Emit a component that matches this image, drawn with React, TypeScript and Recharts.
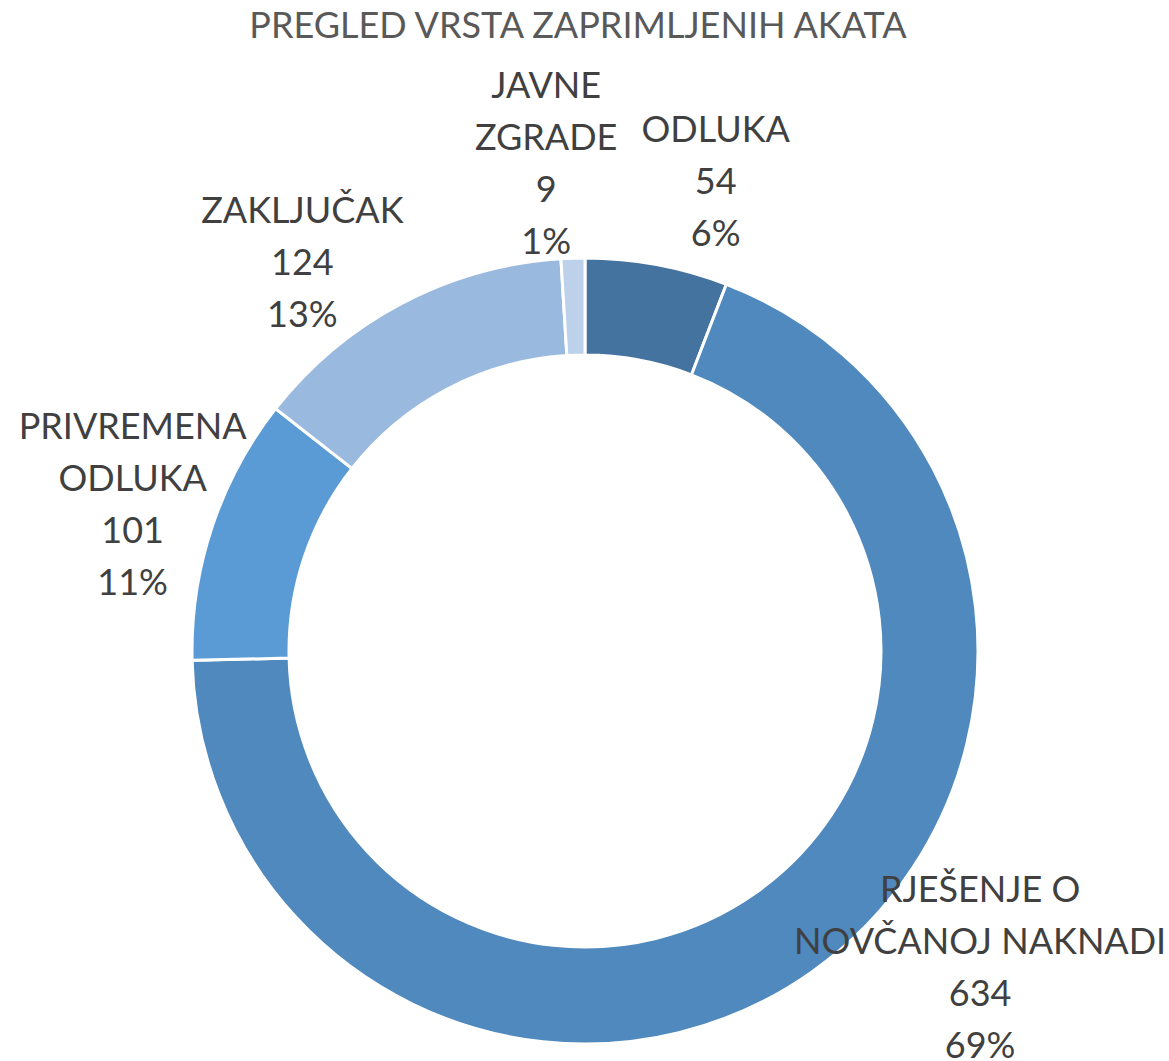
import { PieChart, Pie, Cell } from 'recharts'

// categories (clockwise from 12 o'clock), "\n" marks the label line break
const categories = ['ODLUKA', 'RJEŠENJE O\nNOVČANOJ NAKNADI', 'PRIVREMENA\nODLUKA', 'ZAKLJUČAK', 'JAVNE\nZGRADE']
const counts = [54, 634, 101, 124, 9]
const colors = ['#44739F', '#4F89BD', '#5B9BD5', '#9AB9DF', '#BDD1EB']

// Excel "best fit" shifts some labels away from their slice mid angle
const labelNudge: Record<string, [number, number]> = {
    'ODLUKA': [42, 7],
    'RJEŠENJE O\nNOVČANOJ NAKNADI': [116, -81],
    'PRIVREMENA\nODLUKA': [8, 6],
    'ZAKLJUČAK': [-57, 40],
    'JAVNE\nZGRADE': [-24, -3],
}

const data = categories.map((name, i) => ({ name, value: counts[i] }))

const RAD = Math.PI / 180
const LINE_H = 52
const FONT = 'Lato, "Open Sans", sans-serif'

function renderLabel(props: any) {
    const { cx, cy, midAngle, name, value, percent } = props
    const r = 485
    const [dx, dy] = labelNudge[name] || [0, 0]
    const x = cx + r * Math.cos(-midAngle * RAD) + dx
    const y = cy + r * Math.sin(-midAngle * RAD) + dy
    const lines = [...String(name).split('\n'), String(value), `${Math.round(percent * 100)}%`]
    const n = lines.length
    return (
        <text
            x={x}
            y={y}
            textAnchor="middle"
            fill="#404040"
            style={{ fontFamily: FONT, fontSize: 36 }}
        >
            {lines.map((line, i) => (
                <tspan key={i} x={x} y={y + (i - (n - 1) / 2) * LINE_H + 13}>
                    {line}
                </tspan>
            ))}
        </text>
    )
}

export default function App() {
    return (
        <div style={{ position: 'relative', width: 1169, height: 1061, background: '#fff', overflow: 'hidden' }}>
            <style>{'body{margin:0}'}</style>
            <div
                style={{
                    position: 'absolute',
                    top: 2,
                    left: 0,
                    width: 1156,
                    textAlign: 'center',
                    fontFamily: FONT,
                    fontSize: 36,
                    color: '#595959',
                    zIndex: 1,
                }}
            >
                PREGLED VRSTA ZAPRIMLJENIH AKATA
            </div>
            <PieChart width={1169} height={1061} margin={{ top: 0, right: 0, bottom: 0, left: 0 }}>
                <Pie
                    data={data}
                    dataKey="value"
                    nameKey="name"
                    cx={585}
                    cy={651}
                    innerRadius={296}
                    outerRadius={393}
                    startAngle={90}
                    endAngle={-270}
                    stroke="#fff"
                    strokeWidth={3}
                    label={renderLabel}
                    labelLine={false}
                    isAnimationActive={false}
                >
                    {data.map((d, i) => (
                        <Cell key={d.name} fill={colors[i]} />
                    ))}
                </Pie>
            </PieChart>
        </div>
    )
}
